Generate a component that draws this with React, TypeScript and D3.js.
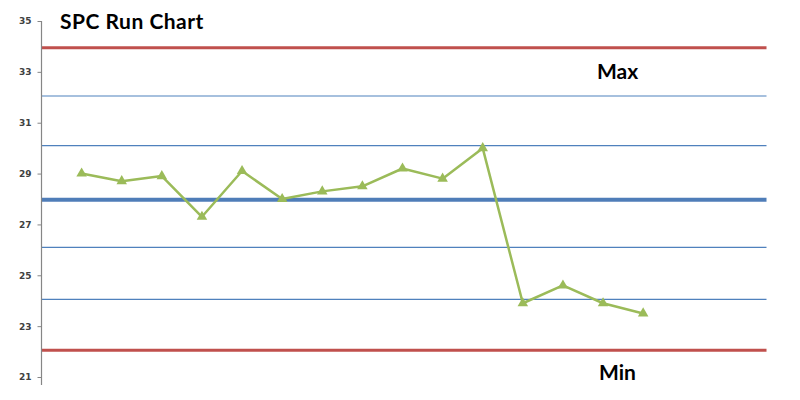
import { useEffect, useRef } from "react";
import * as d3 from "d3";

// run values, one per sample
const samples = [1, 2, 3, 4, 5, 6, 7, 8, 9, 10, 11, 12, 13, 14, 15];
const values = [29.0, 28.7, 28.9, 27.3, 29.1, 28.0, 28.3, 28.5, 29.2, 28.8, 30.0, 23.9, 24.6, 23.9, 23.5];

// reference lines
const maxLimit = 33.95;
const minLimit = 22.05;
const centerLine = 27.97;
const sigmaLines = [32.05, 30.1, 26.1, 24.05];

const yTicks = [21, 23, 25, 27, 29, 31, 33, 35];

export default function App() {
  const svgRef = useRef<SVGSVGElement>(null);

  useEffect(() => {
    if (!svgRef.current) return;
    const width = 800;
    const height = 400;
    const svg = d3.select(svgRef.current);
    svg.selectAll("*").remove();

    const x = d3.scaleLinear().domain([0, 18.1]).range([41.5, 767.5]);
    const y = d3.scaleLinear().domain([21, 35]).range([377, 21]);
    const left = x(0);
    const right = x(18.1) - 1;

    svg.append("rect").attr("width", width).attr("height", height).attr("fill", "#fff");

    // thin sigma lines
    svg.append("g")
      .selectAll("line")
      .data(sigmaLines)
      .join("line")
      .attr("x1", left)
      .attr("x2", right)
      .attr("y1", d => y(d))
      .attr("y2", d => y(d))
      .attr("stroke", "#4F81BD")
      .attr("stroke-width", 1.2);

    // centre line
    svg.append("line")
      .attr("x1", left).attr("x2", right)
      .attr("y1", y(centerLine)).attr("y2", y(centerLine))
      .attr("stroke", "#4F7DB8")
      .attr("stroke-width", 4);

    // limits
    svg.append("g")
      .selectAll("line")
      .data([maxLimit, minLimit])
      .join("line")
      .attr("x1", left)
      .attr("x2", right)
      .attr("y1", d => y(d))
      .attr("y2", d => y(d))
      .attr("stroke", "#C0504D")
      .attr("stroke-width", 3);

    // y axis
    const axis = svg.append("g")
      .attr("transform", `translate(${left},0)`)
      .call(d3.axisLeft(y).tickValues(yTicks).tickSize(4).tickPadding(6).tickSizeOuter(0));
    axis.select(".domain").remove();
    axis.selectAll(".tick line").attr("stroke", "#868686");
    axis.selectAll(".tick text")
      .attr("fill", "#404040")
      .attr("font-family", "DejaVu Sans")
      .attr("font-weight", "bold")
      .attr("font-size", 9);
    svg.append("line")
      .attr("x1", left).attr("x2", left)
      .attr("y1", y(35)).attr("y2", 385)
      .attr("stroke", "#868686")
      .attr("stroke-width", 1.2);

    // run line
    const line = d3.line<number>()
      .x((_, i) => x(samples[i]))
      .y(d => y(d));
    svg.append("path")
      .datum(values)
      .attr("fill", "none")
      .attr("stroke", "#9BBB59")
      .attr("stroke-width", 2.5)
      .attr("stroke-linejoin", "round")
      .attr("d", line);

    svg.append("g")
      .selectAll("path")
      .data(values)
      .join("path")
      .attr("transform", (d, i) => `translate(${x(samples[i])},${y(d)})`)
      .attr("d", d3.symbol(d3.symbolTriangle).size(48)())
      .attr("fill", "#9BBB59");

    // labels
    const font = "Lato, 'Open Sans', sans-serif";
    svg.append("text")
      .attr("x", 60).attr("y", 29)
      .attr("font-family", font).attr("font-weight", "bold").attr("font-size", 21)
      .attr("letter-spacing", 0.5)
      .attr("fill", "#000")
      .text("SPC Run Chart");
    svg.append("text")
      .attr("x", 597).attr("y", 79)
      .attr("font-family", font).attr("font-weight", "bold").attr("font-size", 21)
      .attr("fill", "#000")
      .text("Max");
    svg.append("text")
      .attr("x", 599).attr("y", 380)
      .attr("font-family", font).attr("font-weight", "bold").attr("font-size", 21)
      .attr("fill", "#000")
      .text("Min");
  }, []);

  return (
    <svg
      ref={svgRef}
      width={800}
      height={400}
      style={{ position: "absolute", left: 0, top: 0, display: "block" }}
    />
  );
}
